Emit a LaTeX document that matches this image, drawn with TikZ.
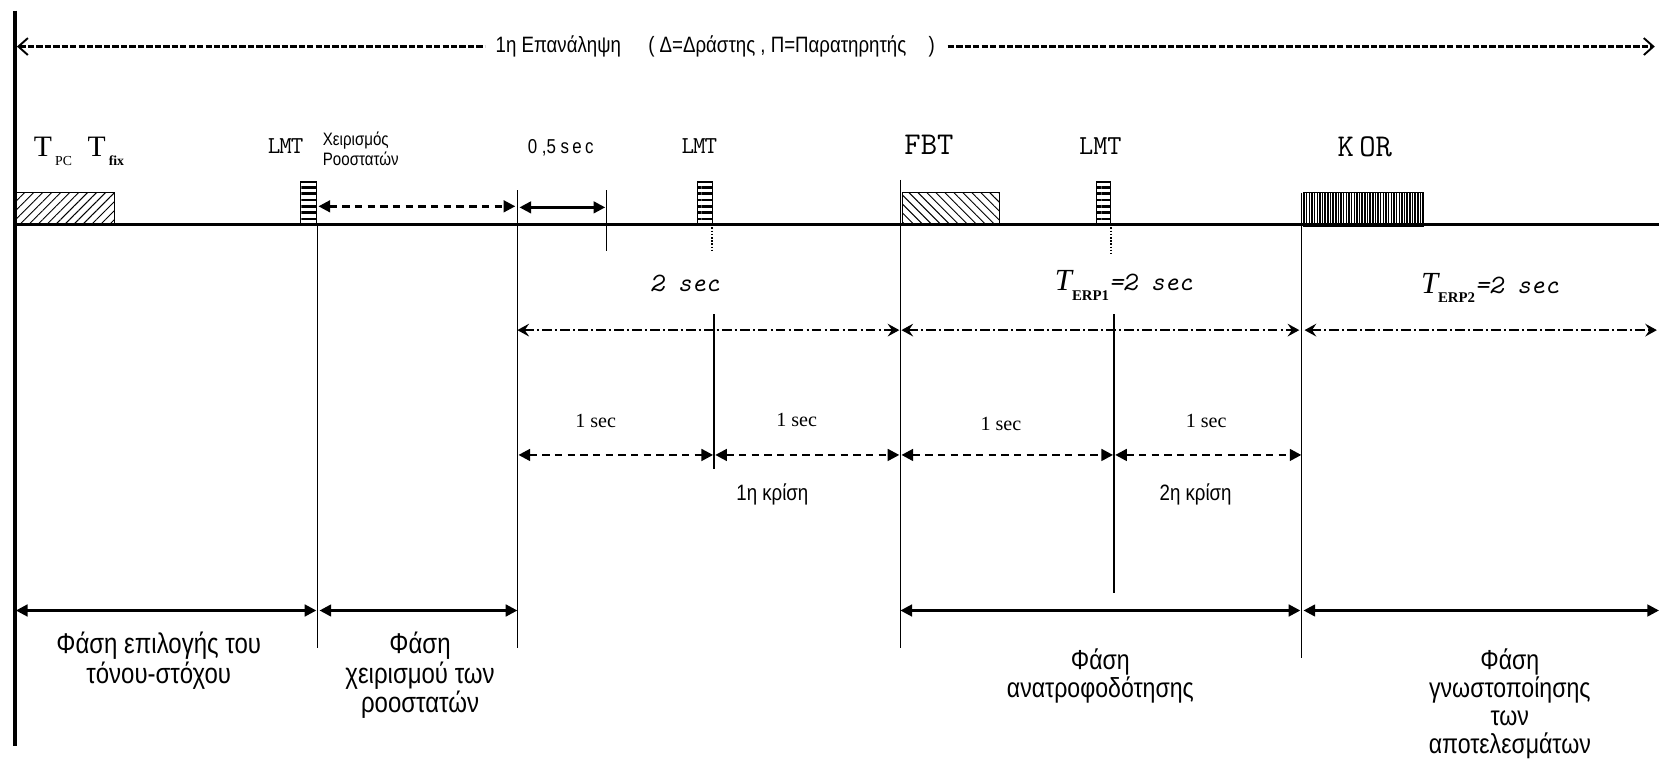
\documentclass[tikz,border=0pt]{standalone}
\usepackage{fontspec}
\setmainfont{Liberation Serif}
\newfontfamily\grk[FakeStretch=0.84]{Liberation Sans}
\newfontfamily\mono{Liberation Mono}
\usetikzlibrary{arrows.meta,patterns.meta}
\tikzset{
  vline/.style={line width=1.2pt},
  heavyv/.style={line width=2.4pt},
  tri/.tip={Triangle[length=11pt,width=11pt]},
  dimdash/.style={line width=2.4pt, dash pattern=on 7pt off 5pt, tri-tri},
  dimsolid/.style={line width=2.4pt, tri-tri},
  dashdot/.style={line width=1.8pt, dash pattern=on 9pt off 3pt on 2pt off 3pt,
     {Stealth[length=11pt,width=12pt,inset=4pt]}-{Stealth[length=11pt,width=12pt,inset=4pt]}},
  toparr/.style={line width=2pt, dash pattern=on 6pt off 2pt},
  lbl/.style={inner sep=0pt},
  grklbl/.style={inner sep=0pt, font=\grk\fontsize{27}{28}\selectfont, align=center},
  lmtbox/.style={draw, line width=1pt, pattern={Lines[angle=0,distance=6pt,line width=2.6pt]}},
}
\begin{document}
\begin{tikzpicture}[x=1pt,y=-1pt]
\useasboundingbox (0,0) rectangle (1568,723);

% main axes
\coordinate (bartop) at (14,10);
\coordinate (barbot) at (14,705);
\draw[line width=4pt] (bartop) -- (barbot);
\coordinate (base0) at (14,212);
\coordinate (base1) at (1568,212);
\draw[line width=3pt] (base0) -- (base1);

% top arrow
\node[lbl, font=\grk\fontsize{21}{21}\selectfont] (iter) at (676,44) {1η Επανάληψη\quad\ ( Δ=Δράστης , Π=Παρατηρητής\quad )};
\coordinate (topL) at (16,44);
\coordinate (topR) at (1564,44);
\draw[toparr, {Straight Barb[length=9pt,width=16pt,line width=1.8pt]}-] (topL) -- ([xshift=-10pt]iter.west);
\draw[toparr, -{Straight Barb[length=9pt,width=16pt,line width=1.8pt]}] ([xshift=12pt]iter.east) -- (topR);

% boxes on the time line
\draw[line width=1pt, pattern={Lines[angle=45,distance=6pt,line width=0.9pt]}] (16,182) rectangle (108,212);
\draw[line width=1pt, pattern={Lines[angle=-45,distance=6pt,line width=0.9pt]}] (853,182) rectangle (945,212);
\draw[line width=1pt, pattern={Lines[angle=90,distance=2.5pt,line width=1.4pt]}] (1232,182) rectangle (1345,214);
\draw[lmtbox] (284,172) rectangle (299,212);
\draw[lmtbox] (659,172) rectangle (673,212);
\draw[lmtbox] (1036,172) rectangle (1050,212);

% top labels
\node[lbl, font=\fontsize{28}{28}\selectfont] (tpc) at (50,143) {T\kern3pt\raisebox{-9pt}{\fontsize{13}{13}\selectfont PC}};
\node[lbl, font=\fontsize{28}{28}\selectfont] (tfix) at (100,143) {T\kern3pt\raisebox{-9pt}{\fontsize{13}{13}\selectfont\bfseries fix}};
\node[lbl, font=\ttfamily\fontsize{23}{23}\selectfont] (lmt1) at (270,138) {L\kern-1pt M\kern-1pt T};
\node[lbl, font=\grk\fontsize{17}{19}\selectfont, align=left, anchor=west] (xeir) at (305,141) {Χειρισμός\\Ροοστατών};
\node[lbl, font=\grk\fontsize{19}{19}\selectfont] (half) at (530,140) {0 ,5 s\,e\,c};
\node[lbl, font=\ttfamily\fontsize{23}{23}\selectfont] (lmt2) at (661,138) {L\kern-1pt M\kern-1pt T};
\node[lbl, font=\ttfamily\fontsize{30}{30}\selectfont] (fbt) at (878,137) {FBT};
\node[lbl, font=\ttfamily\fontsize{26}{26}\selectfont] (lmt3) at (1040,138) {LMT};
\node[lbl, font=\ttfamily\fontsize{30}{30}\selectfont] (kor) at (1290,139) {K\,OR};

% vertical lines
\coordinate (v1t) at (300,212);  \coordinate (v1b) at (300,612);
\coordinate (v2t) at (489,180);  \coordinate (v2b) at (489,612);
\coordinate (v3t) at (573,180);  \coordinate (v3b) at (573,237);
\coordinate (v4t) at (675,297);  \coordinate (v4b) at (675,443);
\coordinate (v5t) at (851,170);  \coordinate (v5b) at (851,612);
\coordinate (v6t) at (1053,297); \coordinate (v6b) at (1053,560);
\coordinate (v7t) at (1230,182); \coordinate (v7b) at (1230,622);
\draw[vline] (v1t) -- (v1b);
\draw[vline] (v2t) -- (v2b);
\draw[vline] (v3t) -- (v3b);
\draw[heavyv] (v4t) -- (v4b);
\draw[vline] (v5t) -- (v5b);
\draw[heavyv] (v6t) -- (v6b);
\draw[vline] (v7t) -- (v7b);
\coordinate (d2t) at (673,212); \coordinate (d2b) at (673,237);
\coordinate (d3t) at (1050,212); \coordinate (d3b) at (1050,240);
\draw[line width=2pt, dash pattern=on 1.5pt off 1.5pt] (d2t) -- (d2b);
\draw[line width=2pt, dash pattern=on 1.5pt off 1.5pt] (d3t) -- (d3b);

% short arrows above the time line
\draw[dimdash] (301,195) -- (487,195);
\draw[dimsolid] (491,196) -- (572,196);

% 2 sec dash-dot arrows
\coordinate (t1) at (489,312); \coordinate (t2) at (851,312);
\coordinate (t3) at (1230,312); \coordinate (t4) at (1566,312);
\draw[dashdot] (t1) -- ([xshift=-1pt]t2);
\draw[dashdot] ([xshift=1pt]t2) -- ([xshift=-2pt]t3);
\draw[dashdot] ([xshift=3pt]t3) -- (t4);
\node[lbl, font=\ttfamily\itshape\fontsize{25}{25}\selectfont] (s2a) at (647,268) {2 sec};
\node[lbl, font=\ttfamily\itshape\fontsize{25}{25}\selectfont] (s2b) at (1062,270) {{\rmfamily\itshape\fontsize{29}{29}\selectfont T}\raisebox{-9pt}{\rmfamily\upshape\bfseries\fontsize{14}{14}\selectfont ERP1}=2 sec};
\node[lbl, font=\ttfamily\itshape\fontsize{25}{25}\selectfont] (s2c) at (1408,272) {{\rmfamily\itshape\fontsize{29}{29}\selectfont T}\raisebox{-9pt}{\rmfamily\upshape\bfseries\fontsize{14}{14}\selectfont ERP2}=2 sec};

% 1 sec dashed arrows
\coordinate (u1) at (490,430); \coordinate (u2) at (675,430);
\coordinate (u3) at (851,430); \coordinate (u4) at (1053,430);
\coordinate (u5) at (1230,430);
\draw[dimdash] (u1) -- ([xshift=-1pt]u2);
\draw[dimdash] ([xshift=1pt]u2) -- ([xshift=-1pt]u3);
\draw[dimdash] ([xshift=1pt]u3) -- ([xshift=-1pt]u4);
\draw[dimdash] ([xshift=1pt]u4) -- (u5);
\node[lbl, font=\fontsize{19}{19}\selectfont] (o1) at (563,398) {1 sec};
\node[lbl, font=\fontsize{19}{19}\selectfont] (o2) at (753,397) {1 sec};
\node[lbl, font=\fontsize{19}{19}\selectfont] (o3) at (946,401) {1 sec};
\node[lbl, font=\fontsize{19}{19}\selectfont] (o4) at (1140,398) {1 sec};
\node[lbl, font=\grk\fontsize{21}{21}\selectfont] (k1) at (730,467) {1η κρίση};
\node[lbl, font=\grk\fontsize{21}{21}\selectfont] (k2) at (1130,467) {2η κρίση};

% phase arrows
\coordinate (p0) at (15,577); \coordinate (p1) at (300,577);
\coordinate (p2) at (489,577); \coordinate (p3) at (851,577);
\coordinate (p4) at (1230,577); \coordinate (p5) at (1568,577);
\draw[dimsolid] (p0) -- ([xshift=-1pt]p1);
\draw[dimsolid] ([xshift=2pt]p1) -- (p2);
\draw[dimsolid] (p3) -- ([xshift=-1pt]p4);
\draw[dimsolid] ([xshift=2pt]p4) -- (p5);

% phase labels
\node[grklbl, anchor=north] (ph1) at (150,597) {Φάση επιλογής του\\τόνου-στόχου};
\node[grklbl, anchor=north] (ph2) at (397,597) {Φάση\\χειρισμού των\\ροοστατών};
\node[grklbl, anchor=north, font=\grk\fontsize{26}{26.5}\selectfont] (ph3) at (1040,613) {Φάση\\ανατροφοδότησης};
\node[grklbl, anchor=north, font=\grk\fontsize{26}{26.5}\selectfont] (ph4) at (1427,613) {Φάση\\γνωστοποίησης\\των\\αποτελεσμάτων};
\end{tikzpicture}
\end{document}
